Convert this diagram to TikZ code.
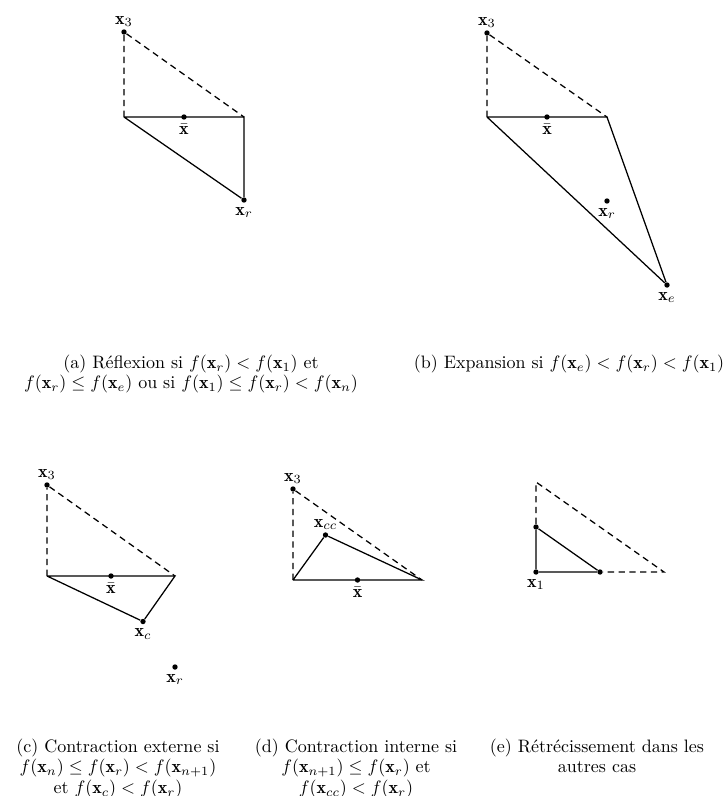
\documentclass[tikz,border=0pt]{standalone}
\usepackage{amsmath}
\usepackage{fontspec}
\usetikzlibrary{positioning}

\begin{document}
\begin{tikzpicture}[x=0.5556pt, y=-0.5556pt,
    pnt/.style={circle, fill=black, inner sep=0pt, minimum size=3pt},
    lbl/.style={inner sep=0.5pt},
    oldside/.style={line width=0.7pt, dash pattern=on 3.5pt off 2.5pt},
    newside/.style={line width=0.7pt},
    legende/.style={anchor=north, align=center, inner sep=0pt, font=\fontsize{10}{11.4}\selectfont}]
    \useasboundingbox (0,0) rectangle (725,796);

    % (a) Reflexion
    \coordinate (x1a) at (124,117);
    \coordinate (x2a) at (244,117);
    \node[pnt] (x3a) at (124,32) {};
    \node[pnt] (xba) at (184,117) {};
    \node[pnt] (xra) at (244,200) {};
    \draw[oldside] (x1a) -- (x3a) -- (x2a);
    \draw[newside] (x1a) -- (x2a) -- (xra) -- (x1a);
    \node[lbl, above=0.5pt of x3a] (lx3a) {$\mathbf{x}_3$};
    \node[lbl, below=1.5pt of xba] (lxba) {$\bar{\mathbf{x}}$};
    \node[lbl, below=1.5pt of xra] (lxra) {$\mathbf{x}_r$};

    % (b) Expansion
    \coordinate (x1b) at (487,117);
    \coordinate (x2b) at (607,117);
    \node[pnt] (x3b) at (487,33) {};
    \node[pnt] (xbb) at (547,117) {};
    \node[pnt] (xrb) at (607,201) {};
    \node[pnt] (xeb) at (667,285) {};
    \draw[oldside] (x1b) -- (x3b) -- (x2b);
    \draw[newside] (x1b) -- (x2b) -- (xeb) -- (x1b);
    \node[lbl, above=0.5pt of x3b] (lx3b) {$\mathbf{x}_3$};
    \node[lbl, below=1.5pt of xbb] (lxbb) {$\bar{\mathbf{x}}$};
    \node[lbl, below=1.5pt of xrb] (lxrb) {$\mathbf{x}_r$};
    \node[lbl, below=1.5pt of xeb] (lxeb) {$\mathbf{x}_e$};

    % (c) Contraction externe
    \coordinate (x1c) at (47,576);
    \coordinate (x2c) at (175,576);
    \node[pnt] (x3c) at (47,485) {};
    \node[pnt] (xbc) at (111,576) {};
    \node[pnt] (xcc) at (143,621.5) {};
    \node[pnt] (xrc) at (175,667) {};
    \draw[oldside] (x1c) -- (x3c) -- (x2c);
    \draw[newside] (x1c) -- (x2c) -- (xcc) -- (x1c);
    \node[lbl, above=0.5pt of x3c] (lx3c) {$\mathbf{x}_3$};
    \node[lbl, below=1.5pt of xbc] (lxbc) {$\bar{\mathbf{x}}$};
    \node[lbl, below=1.5pt of xcc] (lxcc) {$\mathbf{x}_c$};
    \node[lbl, below=1.5pt of xrc] (lxrc) {$\mathbf{x}_r$};

    % (d) Contraction interne
    \coordinate (x1d) at (293,580);
    \coordinate (x2d) at (422,580);
    \node[pnt] (x3d) at (293,489) {};
    \node[pnt] (xbd) at (357.5,580) {};
    \node[pnt] (xccd) at (325.5,535) {};
    \draw[oldside] (x1d) -- (x3d) -- (x2d);
    \draw[newside] (x1d) -- (x2d) -- (xccd) -- (x1d);
    \node[lbl, above=0.5pt of x3d] (lx3d) {$\mathbf{x}_3$};
    \node[lbl, below=1.5pt of xbd] (lxbd) {$\bar{\mathbf{x}}$};
    \node[lbl, above=0.5pt of xccd] (lxccd) {$\mathbf{x}_{cc}$};

    % (e) Retrecissement
    \coordinate (x3e) at (536,482);
    \coordinate (x2e) at (664,572);
    \node[pnt] (x1e) at (536,572) {};
    \node[pnt] (y3e) at (536,527) {};
    \node[pnt] (y2e) at (600,572) {};
    \draw[oldside] (y3e) -- (x3e) -- (x2e) -- (y2e);
    \draw[newside] (x1e) -- (y3e) -- (y2e) -- (x1e);
    \node[lbl, below=1.5pt of x1e] (lx1e) {$\mathbf{x}_1$};

    % Legendes
    \node[legende] (capa) at (191,354.5) {(a) Réflexion si $f(\mathbf{x}_r) < f(\mathbf{x}_1)$ et\\
      $f(\mathbf{x}_r) \leq f(\mathbf{x}_e)$ ou si $f(\mathbf{x}_1) \leq f(\mathbf{x}_r) < f(\mathbf{x}_n)$};
    \node[legende] (capb) at (569,354.5) {(b) Expansion si $f(\mathbf{x}_e) < f(\mathbf{x}_r) < f(\mathbf{x}_1)$};
    \node[legende] (capc) at (118,738.5) {(c) Contraction externe si\\
      $f(\mathbf{x}_n) \leq f(\mathbf{x}_r) < f(\mathbf{x}_{n+1})$\\
      et $f(\mathbf{x}_c) < f(\mathbf{x}_r)$};
    \node[legende] (capd) at (356,738.5) {(d) Contraction interne si\\
      $f(\mathbf{x}_{n+1}) \leq f(\mathbf{x}_r)$ et\\
      $f(\mathbf{x}_{cc}) < f(\mathbf{x}_r)$};
    \node[legende] (cape) at (597,738.5) {(e) Rétrécissement dans les\\
      autres cas};
\end{tikzpicture}
\end{document}
